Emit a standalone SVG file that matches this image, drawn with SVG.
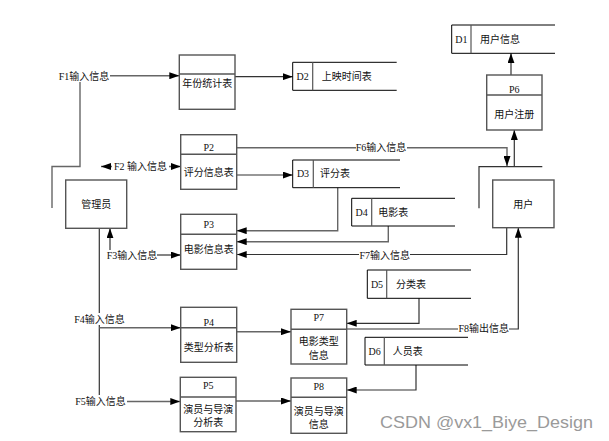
<svg xmlns="http://www.w3.org/2000/svg" width="609" height="441" viewBox="0 0 609 441">
<style>
text{font-family:'Liberation Serif','Noto Sans CJK SC',serif;font-size:10px;fill:#111}
.c{text-anchor:middle}
.proc rect{fill:#fff;stroke:#555;stroke-width:1.4}
.proc line{stroke:#555;stroke-width:1.4}
.ent rect{fill:#fff;stroke:#555;stroke-width:1.4}
.store line{stroke:#000;stroke-width:1}
.store .dv{stroke:#555;stroke-width:1.2}
.conn path{fill:none;stroke:#333;stroke-width:1.2}
.conn .g{stroke:#666;stroke-width:1.4}
.lbg{fill:#fff}
.wm{font-family:'Liberation Sans',Arial,sans-serif;font-size:17px;fill:#9a9a9a}
</style>
<defs>
<marker id="ah" markerWidth="10" markerHeight="7" refX="10" refY="3.5" orient="auto-start-reverse" markerUnits="userSpaceOnUse">
<path d="M0,0 L10,3.5 L0,7 z" fill="#000"/>
</marker>
</defs>
<rect width="609" height="441" fill="#fff"/>

<g class="conn" id="connectors">
<path class="g" d="M52 208 V166.5 H80 V80"/>
<path class="g" d="M110 75.7 H179.3" marker-end="url(#ah)"/>
<path class="g" d="M101 166.5 H180.7" marker-start="url(#ah)" marker-end="url(#ah)"/>
<path d="M235 76.7 H292.7" marker-end="url(#ah)"/>
<path d="M236.7 175 H292.7" marker-end="url(#ah)"/>
<path class="g" d="M236.7 147.7 H507 V166" marker-end="url(#ah)"/>
<path d="M479 208.3 V166.7 H542.3"/>
<path d="M514.3 166.7 V130" marker-end="url(#ah)"/>
<path d="M511 75 V53.3" marker-end="url(#ah)"/>
<path class="g" d="M337.7 187.7 V230.7 H236.7" marker-end="url(#ah)"/>
<path class="g" d="M388.3 226 V241.7 H236.7" marker-end="url(#ah)"/>
<path d="M506.7 227.7 V254.5 H236.7" marker-end="url(#ah)"/>
<path d="M110 250 V228.3" marker-end="url(#ah)"/>
<path d="M157 255 H180.7" marker-end="url(#ah)"/>
<path d="M99.3 228.3 V395"/>
<path class="g" d="M99.3 327.7 H180.7" marker-end="url(#ah)"/>
<path class="g" d="M127 401.5 H180.3" marker-end="url(#ah)"/>
<path class="g" d="M236.7 331.7 H291" marker-end="url(#ah)"/>
<path class="g" d="M236 401 H291" marker-end="url(#ah)"/>
<path d="M419 298.3 V323.3 H346.7" marker-end="url(#ah)"/>
<path d="M416 365 V390 H346.7" marker-end="url(#ah)"/>
<path d="M346.7 329 H518.3 V227.7" marker-end="url(#ah)"/>

<rect class="lbg" x="57" y="70" width="53" height="12"/>
<text class="c" x="84" y="79.5">F1输入信息</text>
<rect class="lbg" x="112" y="161" width="57" height="12"/>
<text class="c" x="140.5" y="170">F2 输入信息</text>
<rect class="lbg" x="106" y="250" width="51" height="12"/>
<text class="c" x="132" y="258.5">F3输入信息</text>
<rect class="lbg" x="73" y="313" width="53" height="12"/>
<text class="c" x="99.5" y="322.5">F4输入信息</text>
<rect class="lbg" x="75" y="396" width="52" height="12"/>
<text class="c" x="100.5" y="405">F5输入信息</text>
<rect class="lbg" x="356" y="142" width="51" height="12"/>
<text class="c" x="381" y="151">F6输入信息</text>
<rect class="lbg" x="359" y="249" width="51" height="12"/>
<text class="c" x="384.7" y="258.5">F7输入信息</text>
<rect class="lbg" x="458" y="323" width="51" height="12"/>
<text class="c" x="483.7" y="331.8">F8输出信息</text>
</g>

<g class="proc" id="P1">
<rect x="179.3" y="55" width="55.7" height="54.3"/>
<line x1="179.3" y1="74" x2="235" y2="74"/>
<text class="c" x="207.2" y="86.5">年份统计表</text>
</g>
<g class="proc" id="P2">
<rect x="180.7" y="134.7" width="56" height="54.6"/>
<line x1="180.7" y1="154.3" x2="236.7" y2="154.3"/>
<text class="c" x="208.7" y="150.5">P2</text>
<text class="c" x="208.7" y="175.5">评分信息表</text>
</g>
<g class="proc" id="P3">
<rect x="180.7" y="214.3" width="56" height="55"/>
<line x1="180.7" y1="234.3" x2="236.7" y2="234.3"/>
<text class="c" x="208.7" y="227.5">P3</text>
<text class="c" x="208.7" y="252.5">电影信息表</text>
</g>
<g class="proc" id="P4">
<rect x="180.7" y="307.3" width="56" height="55"/>
<line x1="180.7" y1="327.7" x2="236.7" y2="327.7"/>
<text class="c" x="208.7" y="325.5">P4</text>
<text class="c" x="208.7" y="351">类型分析表</text>
</g>
<g class="proc" id="P5">
<rect x="180.3" y="377.3" width="55.7" height="54.4"/>
<line x1="180.3" y1="397" x2="236" y2="397"/>
<text class="c" x="208.2" y="389">P5</text>
<text class="c" x="208.2" y="412.5">演员与导演</text>
<text class="c" x="208.2" y="426">分析表</text>
</g>
<g class="proc" id="P6">
<rect x="486.7" y="75" width="55.3" height="55"/>
<line x1="486.7" y1="95" x2="542" y2="95"/>
<text class="c" x="514.3" y="92.5">P6</text>
<text class="c" x="514.3" y="117.8">用户注册</text>
</g>
<g class="proc" id="P7">
<rect x="291" y="309.3" width="55.7" height="54.7"/>
<line x1="291" y1="329.3" x2="346.7" y2="329.3"/>
<text class="c" x="318.8" y="320.8">P7</text>
<text class="c" x="318.8" y="345">电影类型</text>
<text class="c" x="318.8" y="359">信息</text>
</g>
<g class="proc" id="P8">
<rect x="291" y="378" width="55.7" height="55.3"/>
<line x1="291" y1="397.3" x2="346.7" y2="397.3"/>
<text class="c" x="318.8" y="390">P8</text>
<text class="c" x="318.8" y="415">演员与导演</text>
<text class="c" x="318.8" y="427.5">信息</text>
</g>

<g class="ent" id="admin">
<rect x="65.7" y="180" width="61" height="48.3"/>
<text class="c" x="96.2" y="207.5">管理员</text>
</g>
<g class="ent" id="user">
<rect x="492.7" y="180" width="61.3" height="47.7"/>
<text class="c" x="523.3" y="207.5">用户</text>
</g>

<g class="store" id="D1">
<line x1="451.7" y1="25" x2="555" y2="25"/>
<line x1="451.7" y1="53.3" x2="555" y2="53.3"/>
<line x1="451.7" y1="25" x2="451.7" y2="53.3"/>
<line class="dv" x1="471" y1="25" x2="471" y2="53.3"/>
<text class="c" x="461.3" y="42.5">D1</text>
<text x="480" y="42.5">用户信息</text>
</g>
<g class="store" id="D2">
<line x1="292.7" y1="62.3" x2="396.7" y2="62.3"/>
<line x1="292.7" y1="90.3" x2="396.7" y2="90.3"/>
<line x1="292.7" y1="62.3" x2="292.7" y2="90.3"/>
<line class="dv" x1="312.7" y1="62.3" x2="312.7" y2="90.3"/>
<text class="c" x="302.7" y="79.8">D2</text>
<text x="321.7" y="79.8">上映时间表</text>
</g>
<g class="store" id="D3">
<line x1="292.7" y1="160" x2="400" y2="160"/>
<line x1="292.7" y1="187.7" x2="400" y2="187.7"/>
<line x1="292.7" y1="160" x2="292.7" y2="187.7"/>
<line class="dv" x1="313.3" y1="160" x2="313.3" y2="187.7"/>
<text class="c" x="303" y="177.3">D3</text>
<text x="320" y="177.3">评分表</text>
</g>
<g class="store" id="D4">
<line x1="351.7" y1="198.3" x2="455" y2="198.3"/>
<line x1="351.7" y1="226" x2="455" y2="226"/>
<line x1="351.7" y1="198.3" x2="351.7" y2="226"/>
<line class="dv" x1="371.7" y1="198.3" x2="371.7" y2="226"/>
<text class="c" x="361.7" y="215.5">D4</text>
<text x="378.3" y="215.5">电影表</text>
</g>
<g class="store" id="D5">
<line x1="367.3" y1="270" x2="471" y2="270"/>
<line x1="367.3" y1="298.3" x2="471" y2="298.3"/>
<line x1="367.3" y1="270" x2="367.3" y2="298.3"/>
<line class="dv" x1="386.7" y1="270" x2="386.7" y2="298.3"/>
<text class="c" x="377" y="287.5">D5</text>
<text x="396" y="287.5">分类表</text>
</g>
<g class="store" id="D6">
<line x1="365" y1="337.3" x2="468" y2="337.3"/>
<line x1="365" y1="365" x2="468" y2="365"/>
<line x1="365" y1="337.3" x2="365" y2="365"/>
<line class="dv" x1="384.3" y1="337.3" x2="384.3" y2="365"/>
<text class="c" x="374.7" y="354.5">D6</text>
<text x="392.7" y="354.5">人员表</text>
</g>

<text class="wm" x="380" y="427.5" textLength="213" lengthAdjust="spacingAndGlyphs">CSDN @vx1_Biye_Design</text>
</svg>
